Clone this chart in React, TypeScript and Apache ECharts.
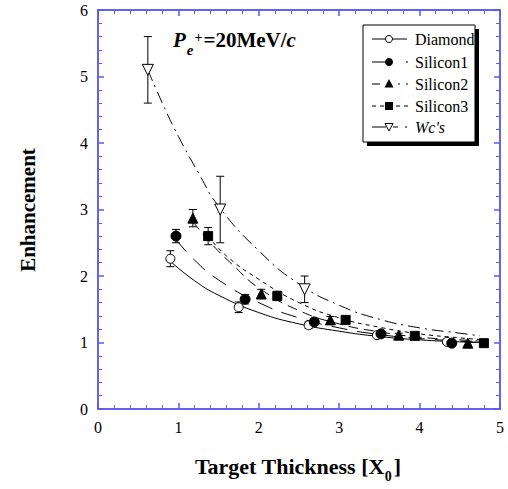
import React, { useEffect, useRef } from "react";
import * as echarts from "echarts";

// ---- data ----
const xTicks = [0, 1, 2, 3, 4, 5];
const yTicks = [0, 1, 2, 3, 4, 5, 6];

const diamondX = [0.9, 1.75, 2.62, 3.47, 4.34];
const diamondY = [2.26, 1.53, 1.26, 1.11, 1.01];
const diamondErr = [0.12, 0.08, 0.05, 0.03, 0.03];

const silicon1X = [0.97, 1.83, 2.69, 3.52, 4.4];
const silicon1Y = [2.6, 1.65, 1.31, 1.13, 0.99];
const silicon1Err = [0.1, 0.07, 0.05, 0.03, 0.03];

const silicon2X = [1.18, 2.03, 2.89, 3.74, 4.6];
const silicon2Y = [2.87, 1.73, 1.34, 1.11, 0.99];
const silicon2Err = [0.13, 0.07, 0.05, 0.03, 0.03];

const silicon3X = [1.37, 2.23, 3.08, 3.94, 4.8];
const silicon3Y = [2.6, 1.7, 1.34, 1.1, 0.99];
const silicon3Err = [0.13, 0.07, 0.05, 0.03, 0.03];

const wcX = [0.62, 1.52, 2.57];
const wcY = [5.1, 3.0, 1.8];
const wcErr = [0.5, 0.5, 0.2];

// fitted curves
const diamondCurveX = [0.92, 1.2, 1.5, 2.0, 2.5, 3.0, 3.5, 4.0, 4.5, 4.75];
const diamondCurveY = [2.2, 1.93, 1.71, 1.45, 1.28, 1.17, 1.09, 1.04, 1.01, 1.0];
const silicon1CurveX = [0.97, 1.2, 1.5, 2.0, 2.5, 3.0, 3.5, 4.0, 4.5, 4.75];
const silicon1CurveY = [2.55, 2.24, 1.94, 1.6, 1.37, 1.22, 1.12, 1.06, 1.02, 1.0];
const silicon2CurveX = [1.18, 1.4, 1.7, 2.0, 2.5, 3.0, 3.5, 4.0, 4.5, 4.75];
const silicon2CurveY = [2.82, 2.5, 2.14, 1.82, 1.48, 1.28, 1.16, 1.08, 1.04, 1.02];
const silicon3CurveX = [1.37, 1.6, 2.0, 2.5, 3.0, 3.5, 4.0, 4.5, 4.8];
const silicon3CurveY = [2.6, 2.3, 1.95, 1.6, 1.37, 1.23, 1.13, 1.07, 1.04];
const wcCurveX = [0.62, 0.8, 1.0, 1.25, 1.5, 2.0, 2.5, 3.0, 3.5, 4.0, 4.5, 4.75];
const wcCurveY = [5.1, 4.6, 4.1, 3.55, 3.05, 2.38, 1.88, 1.56, 1.35, 1.22, 1.14, 1.1];

const names = ["Diamond", "Silicon1", "Silicon2", "Silicon3", "Wc's"];

const AXIS = "#3030f0";
const FONT = "Liberation Serif";

const zip = (a: number[], b: number[]) => a.map((v, i) => [v, b[i]]);
const zip3 = (a: number[], b: number[], c: number[]) => a.map((v, i) => [v, b[i], c[i]]);

function measure(text: string, size: number, weight = "bold", style = "normal") {
  const c = document.createElement("canvas").getContext("2d");
  if (!c) return text.length * size * 0.5;
  c.font = `${style} ${weight} ${size}px "${FONT}"`;
  return c.measureText(text).width;
}

function errorSeries(x: number[], y: number[], e: number[]) {
  return {
    type: "custom",
    xAxisIndex: 0,
    yAxisIndex: 0,
    z: 3,
    silent: true,
    data: zip3(x, y, e),
    renderItem: (params: any, api: any) => {
      const xv = api.value(0), yv = api.value(1), ev = api.value(2);
      const top = api.coord([xv, yv + ev]);
      const bot = api.coord([xv, yv - ev]);
      const st = { stroke: "#000", lineWidth: 1 };
      return {
        type: "group",
        children: [
          { type: "line", shape: { x1: top[0], y1: top[1], x2: bot[0], y2: bot[1] }, style: st },
          { type: "line", shape: { x1: top[0] - 4, y1: top[1], x2: top[0] + 4, y2: top[1] }, style: st },
          { type: "line", shape: { x1: bot[0] - 4, y1: bot[1], x2: bot[0] + 4, y2: bot[1] }, style: st },
        ],
      };
    },
  };
}

function curveSeries(x: number[], y: number[], dash: any) {
  return {
    type: "line",
    xAxisIndex: 0,
    yAxisIndex: 0,
    smooth: true,
    showSymbol: false,
    silent: true,
    z: 2,
    data: zip(x, y),
    lineStyle: { color: "#000", width: 1, type: dash },
  };
}

function markerSeries(x: number[], y: number[], symbol: string, size: number, filled: boolean, rotate = 0) {
  return {
    type: "scatter",
    xAxisIndex: 0,
    yAxisIndex: 0,
    z: 4,
    symbol,
    symbolSize: size,
    symbolRotate: rotate,
    data: zip(x, y),
    itemStyle: { color: filled ? "#000" : "#fff", borderColor: "#000", borderWidth: 1, opacity: 1 },
  };
}

const dashes: any[] = ["solid", [16, 10], [10, 6], [4, 4], [12, 5, 2, 5]];

function txt(x: number, y: number, text: string, size: number, opts: any = {}) {
  return {
    type: "text",
    x,
    y,
    rotation: opts.rotation || 0,
    style: {
      text,
      fontFamily: FONT,
      fontSize: size,
      fontWeight: opts.weight || "normal",
      fontStyle: opts.style || "normal",
      fill: "#000",
      textAlign: opts.align || "left",
      verticalAlign: opts.valign || "middle",
    },
  };
}

function legendGraphics() {
  const rows = [39, 62, 84, 106, 127];
  const children: any[] = [];
  children.push({ type: "rect", shape: { x: 367, y: 29, width: 112, height: 117 }, style: { fill: "#000" } });
  children.push({ type: "rect", shape: { x: 363, y: 25, width: 112, height: 117 }, style: { fill: "#fff", stroke: "#000", lineWidth: 1 } });
  const line = (x1: number, x2: number, y: number, dash: any) => ({
    type: "line",
    shape: { x1, y1: y, x2, y2: y },
    style: { stroke: "#000", lineWidth: 1, lineDash: dash },
  });
  rows.forEach((y, i) => {
    if (i === 0) children.push(line(372, 407, y, null));
    if (i === 1) { children.push(line(372, 389, y, null)); children.push(line(406, 408, y, null)); }
    if (i === 2) { children.push(line(372, 380, y, null)); children.push(line(398, 400, y, null)); children.push(line(406, 408, y, null)); }
    if (i === 3) { children.push(line(372, 408, y, [4, 4])); }
    if (i === 4) { children.push(line(372, 386, y, null)); children.push(line(393, 398, y, null)); children.push(line(405, 407, y, null)); }
    const mx = 389;
    if (i === 0) children.push({ type: "circle", shape: { cx: mx, cy: y, r: 3.5 }, style: { fill: "#fff", stroke: "#000", lineWidth: 1 } });
    if (i === 1) children.push({ type: "circle", shape: { cx: mx, cy: y, r: 4 }, style: { fill: "#000" } });
    if (i === 2) children.push({ type: "polygon", shape: { points: [[mx, y - 5], [mx - 4.5, y + 3.5], [mx + 4.5, y + 3.5]] }, style: { fill: "#000" } });
    if (i === 3) children.push({ type: "rect", shape: { x: mx - 4, y: y - 4, width: 8, height: 8 }, style: { fill: "#000" } });
    if (i === 4) children.push({ type: "polygon", shape: { points: [[mx - 4, y - 3.5], [mx + 4, y - 3.5], [mx, y + 4]] }, style: { fill: "#fff", stroke: "#000", lineWidth: 1 } });
    children.push(txt(415, y, names[i], 16, { style: i === 4 ? "italic" : "normal" }));
  });
  return children;
}

function titleGraphics() {
  const out: any[] = [];
  let x = 173;
  out.push(txt(x, 50, "P", 21, { weight: "bold", style: "italic", valign: "bottom" }));
  x += measure("P", 21, "bold", "italic") + 1;
  out.push(txt(x, 57, "e", 15, { weight: "bold", style: "italic", valign: "bottom" }));
  x += measure("e", 15, "bold", "italic") + 1;
  out.push(txt(x, 44, "+", 14, { weight: "bold", valign: "bottom" }));
  x += measure("+", 14, "bold") + 1;
  out.push(txt(x, 50, "=20MeV/", 21, { weight: "bold", valign: "bottom" }));
  x += measure("=20MeV/", 21, "bold");
  out.push(txt(x, 50, "c", 21, { weight: "bold", style: "italic", valign: "bottom" }));
  return out;
}

function axisTitleGraphics() {
  const main = "Target Thickness [X";
  const w1 = measure(main, 22);
  const w2 = measure("0", 14);
  const w3 = measure("]", 22);
  const total = w1 + w2 + 2 + w3;
  const x0 = 298 - total / 2;
  return [
    txt(28, 210, "Enhancement", 21, { weight: "bold", align: "center", rotation: Math.PI / 2 }),
    txt(x0, 477, main, 22, { weight: "bold", valign: "bottom" }),
    txt(x0 + w1, 483, "0", 14, { weight: "bold", valign: "bottom" }),
    txt(x0 + w1 + w2 + 2, 477, "]", 22, { weight: "bold", valign: "bottom" }),
  ];
}

export default function App() {
  const ref = useRef<HTMLDivElement>(null);
  useEffect(() => {
    if (!ref.current) return;
    const chart = echarts.init(ref.current, null, { renderer: "svg" });
    const baseAxis = (isX: boolean, showLabel: boolean) => ({
      type: "value",
      min: isX ? xTicks[0] : yTicks[0],
      max: isX ? xTicks[xTicks.length - 1] : yTicks[yTicks.length - 1],
      interval: 1,
      splitLine: { show: false },
      axisLine: { show: true, onZero: false, lineStyle: { color: AXIS, width: 1.5 } },
      axisTick: { show: true, inside: true, length: 6, lineStyle: { color: "#5a5af5", width: 1.5 } },
      minorTick: { show: true, splitNumber: 5, length: 4, lineStyle: { color: "#5a5af5", width: 1 } },
      axisLabel: {
        show: showLabel,
        color: "#000",
        fontFamily: FONT,
        fontSize: 16,
        margin: 10,
      },
    });
    chart.setOption({
      animation: false,
      backgroundColor: "#fff",
      grid: { left: 98, right: 8, top: 10, bottom: 80 },
      xAxis: [
        { ...baseAxis(true, true), position: "bottom" },
        { ...baseAxis(true, false), position: "top" },
      ],
      yAxis: [
        { ...baseAxis(false, true), position: "left" },
        { ...baseAxis(false, false), position: "right" },
      ],
      series: [
        curveSeries(diamondCurveX, diamondCurveY, dashes[0]),
        curveSeries(silicon1CurveX, silicon1CurveY, dashes[1]),
        curveSeries(silicon2CurveX, silicon2CurveY, dashes[2]),
        curveSeries(silicon3CurveX, silicon3CurveY, dashes[3]),
        curveSeries(wcCurveX, wcCurveY, dashes[4]),
        errorSeries(diamondX, diamondY, diamondErr),
        errorSeries(silicon1X, silicon1Y, silicon1Err),
        errorSeries(silicon2X, silicon2Y, silicon2Err),
        errorSeries(silicon3X, silicon3Y, silicon3Err),
        errorSeries(wcX, wcY, wcErr),
        markerSeries(diamondX, diamondY, "circle", 9, false),
        markerSeries(silicon1X, silicon1Y, "circle", 10, true),
        markerSeries(silicon2X, silicon2Y, "triangle", 10, true),
        markerSeries(silicon3X, silicon3Y, "rect", 9, true),
        markerSeries(wcX, wcY, "triangle", 11, false, 180),
      ],
      graphic: [...legendGraphics(), ...titleGraphics(), ...axisTitleGraphics()],
    });
    return () => chart.dispose();
  }, []);
  return <div ref={ref} style={{ width: 508, height: 489, position: "absolute", left: 0, top: 0 }} />;
}
